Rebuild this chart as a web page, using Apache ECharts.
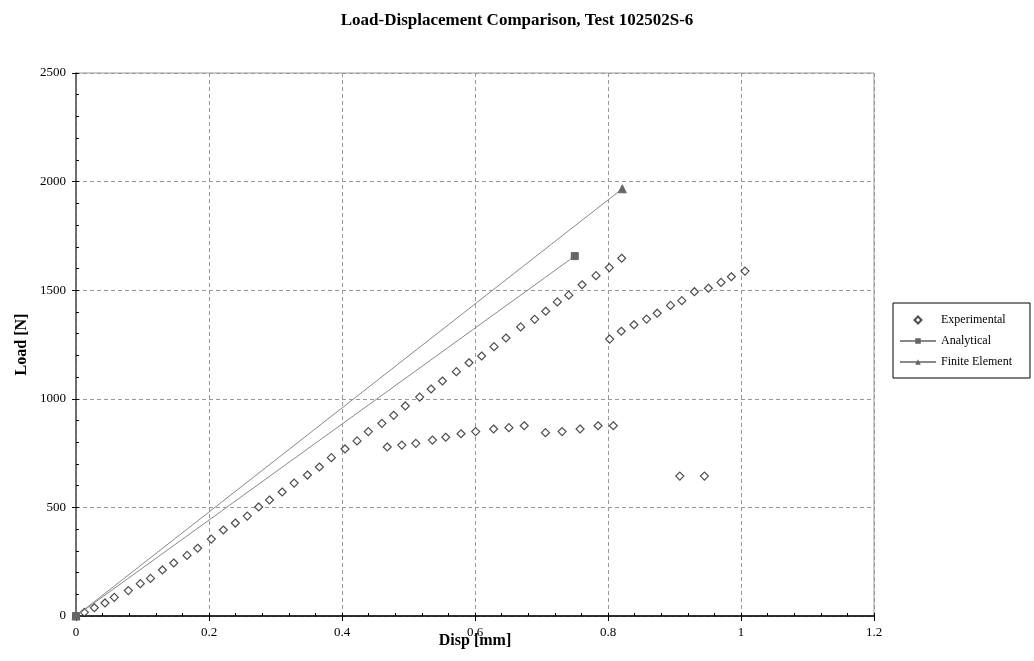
<!DOCTYPE html>
<html>
<head>
<meta charset="utf-8">
<script src="https://cdn.jsdelivr.net/npm/echarts@6/dist/echarts.min.js"></script>
<style>html,body{margin:0;padding:0;background:#fff}#c{width:1034px;height:661px}</style>
</head>
<body>
<div id="c"></div>
<script>
// Experimental data (Disp [mm], Load [N])
const expDisp = [0.0125,0.0276,0.0436,0.0576,0.0787,0.0967,0.112,0.130,0.147,0.167,0.183,0.2035,0.2216,0.2396,0.2576,0.2747,0.291,0.310,0.328,0.348,0.366,0.384,0.4045,0.4226,0.4396,0.460,0.4777,0.4952,0.5168,0.534,0.551,0.572,0.591,0.610,0.6286,0.6466,0.6687,0.6897,0.7063,0.7238,0.741,0.761,0.782,0.802,0.8206,
  0.468,0.490,0.511,0.536,0.556,0.579,0.601,0.628,0.651,0.674,0.706,0.731,0.758,0.785,0.808,
  0.8025,0.820,0.839,0.858,0.874,0.894,0.911,0.930,0.951,0.970,0.9855,1.006,
  0.908,0.945];
const expLoad = [17,38,60,86,117,149,173,212,244,279,312,354,396,428,460,502,534,571,612,649,686,729,769,806,849,887,924,967,1008,1045,1082,1125,1166,1197,1240,1280,1331,1366,1403,1446,1477,1525,1567,1604,1647,
  778,787,795,810,823,839,849,861,867,876,844,849,861,876,876,
  1275,1311,1341,1367,1394,1430,1452,1493,1509,1536,1562,1588,
  644,644];
const anaDisp = [0, 0.750];
const anaLoad = [0, 1657];
const feDisp = [0, 0.8215];
const feLoad = [0, 1967];
const xTicks = [0, 0.2, 0.4, 0.6, 0.8, 1, 1.2];
const yTicks = [0, 500, 1000, 1500, 2000, 2500];

const zip = (a, b) => a.map((v, i) => [v, b[i]]);
const serif = 'Liberation Serif';
const xMin = xTicks[0], xMax = xTicks[xTicks.length - 1];
const yMin = yTicks[0], yMax = yTicks[yTicks.length - 1];

const chart = echarts.init(document.getElementById('c'), null, {renderer: 'canvas'});
chart.setOption({
  backgroundColor: '#fff',
  animation: false,
  title: {
    text: 'Load-Displacement Comparison, Test 102502S-6',
    left: 'center', top: 7,
    textStyle: {fontFamily: serif, fontSize: 17, fontWeight: 'bold', color: '#000'}
  },
  grid: {left: 76, right: 160, top: 73, bottom: 45, outerBoundsMode: 'none', containLabel: false,
    show: true, borderColor: '#999', borderWidth: 1, backgroundColor: '#fff'},
  legend: {
    orient: 'vertical', left: 893, top: 303,
    itemWidth: 36, itemHeight: 7, itemGap: 9,
    padding: [11, 18, 10, 6],
    borderColor: '#000', borderWidth: 1, borderRadius: 0,
    textStyle: {fontFamily: serif, fontSize: 12, color: '#000'},
    data: [
      {name: 'Experimental', icon: 'path://M5,0 L10,5 L5,10 L0,5 Z'},
      'Analytical', 'Finite Element'
    ]
  },
  xAxis: [{
    type: 'value', min: xMin, max: xMax, interval: 0.2,
    name: 'Disp [mm]', nameLocation: 'middle', nameGap: 17, nameMoveOverlap: false,
    nameTextStyle: {fontFamily: serif, fontSize: 16, fontWeight: 'bold', color: '#000'},
    axisLine: {show: true, onZero: false, lineStyle: {color: '#000', width: 1.5}},
    axisTick: {show: true, length: 5, lineStyle: {color: '#000'}},
    axisLabel: {fontFamily: serif, fontSize: 13, color: '#000', margin: 10,
      formatter: v => String(Math.round(v * 10) / 10)},
    splitLine: {show: true, lineStyle: {color: '#999', type: [4, 3], width: 1}}
  }, {
    type: 'value', position: 'bottom', min: xMin, max: xMax, interval: 0.04,
    axisLine: {show: false},
    axisTick: {show: true, inside: true, length: 3, lineStyle: {color: '#000'}},
    axisLabel: {show: false}, splitLine: {show: false}
  }],
  yAxis: [{
    type: 'value', min: yMin, max: yMax, interval: 500,
    name: 'Load [N]', nameLocation: 'middle', nameGap: 46, nameRotate: 90, nameMoveOverlap: false,
    nameTextStyle: {fontFamily: serif, fontSize: 16, fontWeight: 'bold', color: '#000'},
    axisLine: {show: true, onZero: false, lineStyle: {color: '#555', width: 1.5}},
    axisTick: {show: true, length: 4, lineStyle: {color: '#000'}},
    axisLabel: {fontFamily: serif, fontSize: 13, color: '#000', margin: 10,
      formatter: v => String(v)},
    splitLine: {show: true, lineStyle: {color: '#999', type: [4, 3], width: 1}}
  }, {
    type: 'value', position: 'left', min: yMin, max: yMax, interval: 100,
    axisLine: {show: false},
    axisTick: {show: true, inside: true, length: 3, lineStyle: {color: '#000'}},
    axisLabel: {show: false}, splitLine: {show: false}
  }],
  series: [
    {
      name: 'Experimental', type: 'scatter', data: zip(expDisp, expLoad),
      symbol: 'diamond', symbolSize: 8,
      itemStyle: {color: '#fff', borderColor: '#222', borderWidth: 1.2}
    },
    {
      name: 'Analytical', type: 'line', data: zip(anaDisp, anaLoad),
      symbol: 'rect', symbolSize: 7, showSymbol: true,
      lineStyle: {color: '#888', width: 1},
      itemStyle: {color: '#666', borderColor: '#666'}
    },
    {
      name: 'Finite Element', type: 'line', data: zip(feDisp, feLoad),
      symbol: 'triangle', symbolSize: 8, showSymbol: true,
      lineStyle: {color: '#888', width: 1},
      itemStyle: {color: '#666', borderColor: '#666'}
    }
  ]
});
</script>
</body>
</html>
